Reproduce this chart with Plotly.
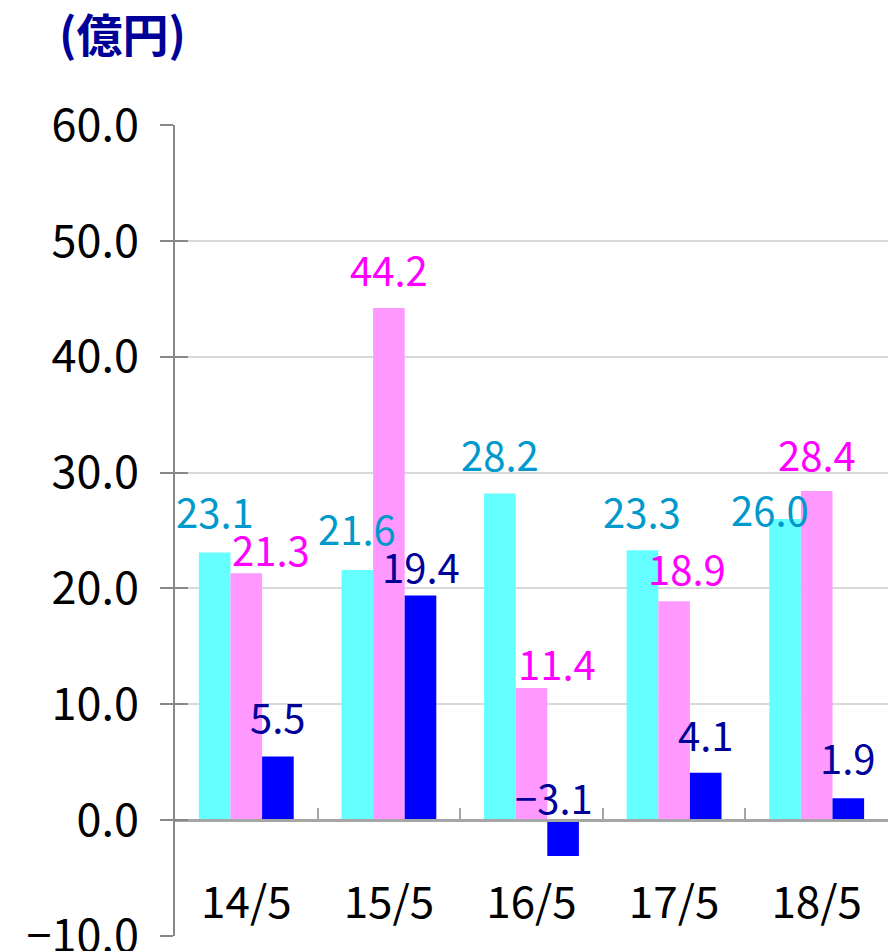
import plotly.graph_objects as go

categories = ["14/5", "15/5", "16/5", "17/5", "18/5"]
series_names = ["A", "B", "C"]
cyan_vals = [23.1, 21.6, 28.2, 23.3, 26.0]
pink_vals = [21.3, 44.2, 11.4, 18.9, 28.4]
blue_vals = [5.5, 19.4, -3.1, 4.1, 1.9]
y_ticks = [-10, 0, 10, 20, 30, 40, 50, 60]
unit_label = "(億円)"

bar_colors = ["#66FFFF", "#FF99FF", "#0000FF"]
label_colors = ["#0099CC", "#FF00FF", "#000099"]
FONT = "Noto Sans CJK JP"
BARGAP = 0.335

# label nudges (pixels): [series][category]
label_dx = [[0, 0, 0, 0, -15], [25, 0, 25, 13, 0], [0, 0, -9, 0, 0]]
label_dy = [[42, 42, 39, 39, 10], [24, 39, 25, 33, 37], [40, 29, 23, 39, 41]]

all_vals = [cyan_vals, pink_vals, blue_vals]


def fmt(v):
    s = f"{abs(v):.1f}"
    return ("\u2212" + s) if v < 0 else s


fig = go.Figure()
for name, vals, col in zip(series_names, all_vals, bar_colors):
    fig.add_trace(go.Bar(x=categories, y=vals, name=name, marker_color=col,
                         marker_line_width=0, showlegend=False, hoverinfo="skip"))

# dummy trace for overlay axis (inner half of crossing ticks)
fig.add_trace(go.Scatter(x=[categories[0]], y=[None], yaxis="y2", showlegend=False,
                         hoverinfo="skip", mode="markers"))

bw = (1 - BARGAP) / 3
for s, vals in enumerate(all_vals):
    for i, v in enumerate(vals):
        fig.add_annotation(
            x=i + (s - 1) * bw, y=max(v, 0), xref="x", yref="y",
            text=fmt(v), showarrow=False,
            xanchor="center", yanchor="middle",
            xshift=label_dx[s][i], yshift=label_dy[s][i],
            font=dict(family=FONT, size=40, color=label_colors[s]),
        )

ymin, ymax = y_ticks[0], y_ticks[-1]
fig.update_layout(
    width=892, height=951,
    margin=dict(l=175, r=4, t=125, b=15),
    paper_bgcolor="white", plot_bgcolor="white",
    barmode="group", bargap=BARGAP, bargroupgap=0,
    font=dict(family=FONT, color="black"),
    title=dict(text=f"<b>{unit_label}</b>", xref="container", yref="container",
               x=59 / 892, xanchor="left", y=1 - 36 / 951, yanchor="middle",
               font=dict(family=FONT, size=46, color="#000099")),
    xaxis=dict(
        type="category", anchor="free",
        position=(0 - ymin) / (ymax - ymin),
        showline=True, linecolor="#A6A6A6", linewidth=2.5,
        ticks="inside", tickson="boundaries", ticklen=11, tickcolor="#A6A6A6",
        tickwidth=2, showgrid=False, zeroline=False,
        ticklabelstandoff=43, automargin=False,
        tickfont=dict(family=FONT, size=44, color="black"),
        range=[-0.5, len(categories) - 0.5],
    ),
    yaxis=dict(
        range=[ymin, ymax], tickvals=y_ticks, tickformat=".1f",
        showline=True, linecolor="#888888", linewidth=2,
        ticks="outside", ticklen=13, tickcolor="#888888", tickwidth=2,
        showgrid=True, gridcolor="#D9D9D9", gridwidth=1.5, zeroline=False,
        ticklabelstandoff=12, ticklabeloverflow="allow",
        tickfont=dict(family=FONT, size=45, color="black"),
        automargin=False,
    ),
    yaxis2=dict(
        range=[ymin, ymax], tickvals=y_ticks, overlaying="y", side="left",
        showticklabels=False, ticks="inside", ticklen=13, tickcolor="#888888",
        tickwidth=2, showgrid=False, zeroline=False, showline=False,
        automargin=False,
    ),
)

fig.write_html("out.html", config={"displayModeBar": False},
               post_script="document.body.style.margin='0';document.body.style.overflow='hidden';")
